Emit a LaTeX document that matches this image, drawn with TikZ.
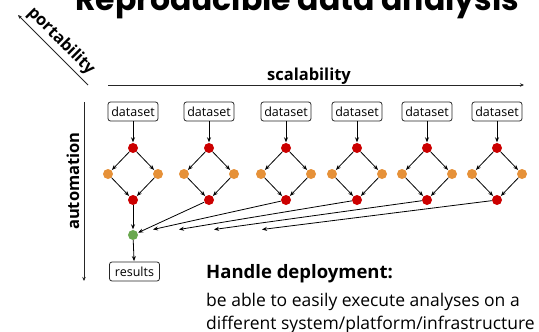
\documentclass[tikz,border=0pt]{standalone}
\usepackage{fontspec}
\setmainfont{Open Sans}
\newfontfamily\titlefont{Poppins}
\usetikzlibrary{arrows.meta,calc}
\definecolor{dred}{HTML}{CC0000}
\definecolor{dorange}{HTML}{E69138}
\definecolor{dgreen}{HTML}{6AA84F}
\begin{document}
\begin{tikzpicture}[x=1pt,y=-1pt,
  box/.style={draw=black!85, rounded corners=2.5pt, line width=0.8pt, inner xsep=1.5pt, inner ysep=0pt,
    minimum width=50pt, minimum height=19pt, font=\fontsize{12.5}{13}\selectfont},
  rdot/.style={circle, fill=dred, inner sep=0pt, minimum size=10pt},
  odot/.style={circle, fill=dorange, inner sep=0pt, minimum size=10pt},
  gdot/.style={circle, fill=dgreen, inner sep=0pt, minimum size=10pt},
  arr/.style={-{Stealth[length=5pt,width=4pt]}, line width=0.8pt, shorten >=0.5pt},
  axis/.style={-{Stealth[length=4pt,width=3.5pt]}, line width=0.8pt, black!85},
  axlabel/.style={font=\bfseries\fontsize{16.5}{18}\selectfont}
]
\useasboundingbox (0,0) rectangle (539,332);
% title
\node[anchor=base west, inner sep=0pt, font=\titlefont\bfseries\fontsize{31.5}{33}\selectfont] (title) at (75,10) {Reproducible data analysis};
% axes
\coordinate (p1) at (88,85);
\coordinate (p2) at (18,15);
\draw[axis] (p1) -- (p2);
\node[axlabel, rotate=-45] (port) at (61,41) {portability};
\coordinate (s1) at (108,85);
\coordinate (s2) at (524,85);
\draw[axis] (s1) -- (s2);
\node[axlabel, anchor=base] (scal) at (309,80) {scalability};
\coordinate (a1) at (84,102);
\coordinate (a2) at (84,281);
\draw[axis] (a1) -- (a2);
\node[axlabel, rotate=90] (auto) at (73,181) {automation};
% columns
\foreach \i/\x in {1/133,2/209,3/286,4/357,5/427,6/497} {
  \node[box] (d\i) at (\x,111.5) {dataset};
  \node[rdot] (t\i) at (\x,148) {};
  \node[odot] (l\i) at (\x-25,174) {};
  \node[odot] (r\i) at (\x+25,174) {};
  \node[rdot] (b\i) at (\x,200) {};
  \draw[arr] (d\i) -- (t\i);
  \draw[arr] (t\i) -- (l\i);
  \draw[arr] (t\i) -- (r\i);
  \draw[arr] (l\i) -- (b\i);
  \draw[arr] (r\i) -- (b\i);
}
\node[gdot] (g) at (133,235) {};
\node[box] (res) at (134.5,271.5) {results};
\draw[arr] (b1) -- (g);
\draw[arr] (g) -- (res);
\draw[arr] (b2) -- (g);
\coordinate (e3) at (153,229.5);
\coordinate (e4) at (179,229.5);
\coordinate (e5) at (214,229.5);
\coordinate (e6) at (262,229.5);
\foreach \i in {3,4,5,6} { \draw[arr, shorten >=0pt] (b\i) -- (e\i); }
% text
\node[anchor=base west, inner sep=0pt, font=\bfseries\fontsize{18.5}{20}\selectfont] (hd) at (206,278) {Handle deployment:};
\node[anchor=base west, inner sep=0pt, font=\fontsize{17.5}{20}\selectfont] (l1) at (206,306) {be able to easily execute analyses on a};
\node[anchor=base west, inner sep=0pt, font=\fontsize{17.5}{20}\selectfont] (l2) at (206,329) {different system/platform/infrastructure};
\end{tikzpicture}
\end{document}
